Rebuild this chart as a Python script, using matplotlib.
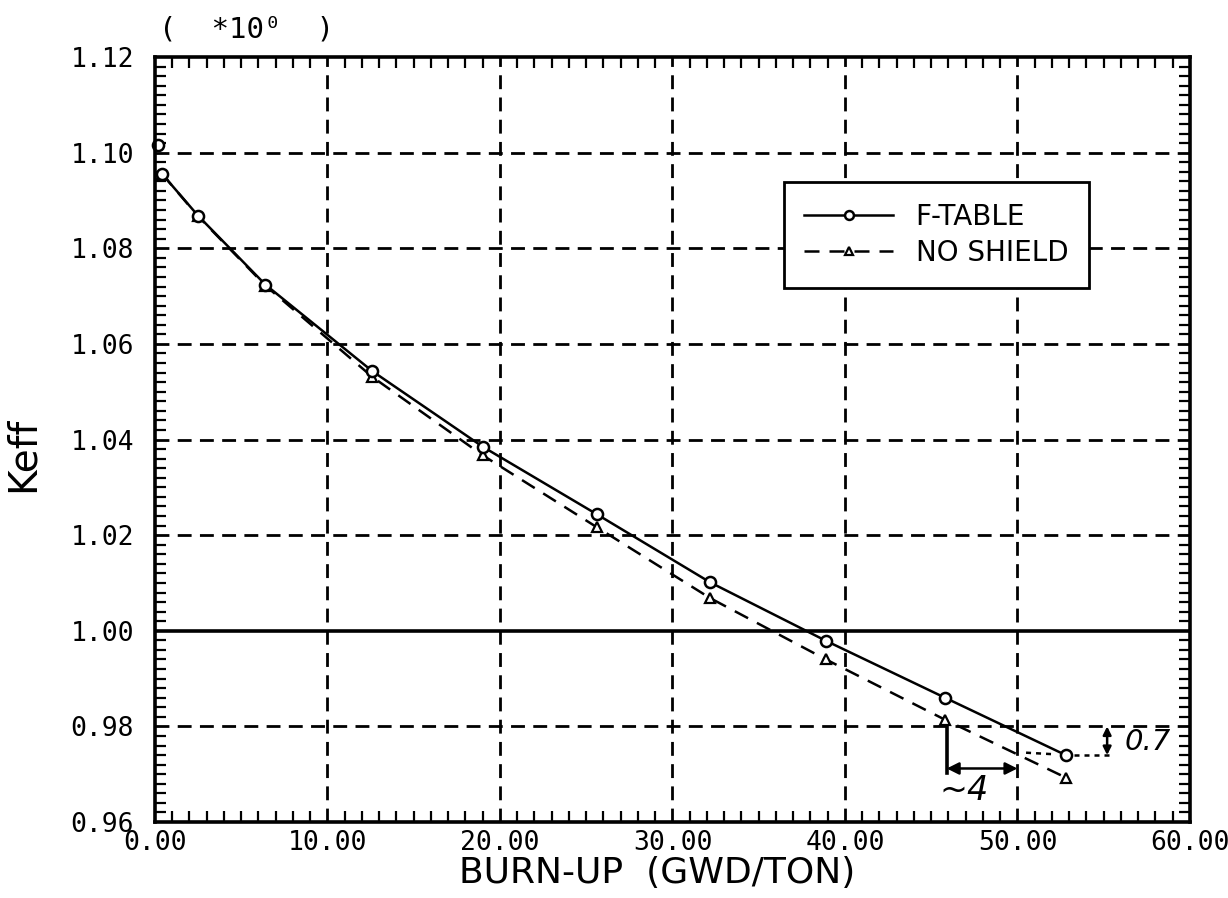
import matplotlib
matplotlib.use("Agg")
import matplotlib.pyplot as plt
from matplotlib.ticker import MultipleLocator, FixedLocator

# ────────────────────────────────────────
#   Data
# ────────────────────────────────────────
burnup = [0.4, 2.5, 6.4, 12.6, 19.0, 25.6, 32.2, 38.9, 45.8, 52.8]
keff_ftable = [1.0956, 1.0868, 1.0724, 1.0543, 1.0385, 1.0244, 1.0101, 0.9979, 0.9860, 0.9740]
keff_noshield = [1.0956, 1.0867, 1.0722, 1.0531, 1.0367, 1.0217, 1.0068, 0.9940, 0.9814, 0.9693]

# fresh-fuel point (drawn alone, not joined to the curve)
burnup_fresh = [0.2]
keff_fresh = [1.1017]

x_ticks = [0, 10, 20, 30, 40, 50, 60]
y_ticks = [0.96, 0.98, 1.00, 1.02, 1.04, 1.06, 1.08, 1.10, 1.12]

MONO = "DejaVu Sans Mono"
SANS = "DejaVu Sans"

fig = plt.figure(figsize=(12.28, 8.98), dpi=100, facecolor="white")
ax = fig.add_axes([0.1262, 0.0846, 0.9690 - 0.1262, 0.9365 - 0.0846])

ax.set_xlim(0, 60)
ax.set_ylim(0.96, 1.12)

# grid: dashed, except keff = 1.00 which is solid
dash = (0, (5, 3))
for xv in x_ticks[1:-1]:
    ax.axvline(xv, color="black", lw=2, ls=dash, zorder=1)
for yv in y_ticks[1:-1]:
    if abs(yv - 1.0) < 1e-9:
        ax.axhline(yv, color="black", lw=2.6, ls="-", zorder=1)
    else:
        ax.axhline(yv, color="black", lw=2, ls=dash, zorder=1)

# curves
ax.plot(burnup, keff_ftable, color="black", lw=1.8, marker="o", ms=8,
        mfc="white", mec="black", mew=1.8, label="F-TABLE", zorder=3)
ax.plot(burnup, keff_noshield, color="black", lw=1.8, ls=(0, (6, 4)), marker="^",
        ms=7, mfc="white", mec="black", mew=1.6, label="NO SHIELD", zorder=2)
ax.plot(burnup_fresh, keff_fresh, ls="none", marker="o", ms=8, mfc="white",
        mec="black", mew=1.8, zorder=3, clip_on=False)

# hand-drawn notes near the end of cycle
x_ns = 45.9
ax.plot([x_ns, x_ns], [0.980, 0.9703], color="black", lw=2.6, zorder=4)
ax.annotate("", xy=(50.0, 0.9712), xytext=(x_ns, 0.9712),
            arrowprops=dict(arrowstyle="<|-|>", color="black", lw=1.8,
                            mutation_scale=18, shrinkA=0, shrinkB=0), zorder=4)
ax.text(46.9, 0.9665, "~4", fontsize=24, style="italic", family=SANS,
        ha="center", va="center")

ax.plot([burnup[-1] + 0.5, 55.6], [keff_ftable[-1], keff_ftable[-1]], color="black",
        lw=1.8, ls=(0, (2, 2)), zorder=4)
ax.plot([50.5, 52.0], [0.9745, 0.9742], color="black", lw=1.8, ls=(0, (2, 2)), zorder=4)
ax.annotate("", xy=(55.2, 0.980), xytext=(55.2, keff_ftable[-1]),
            arrowprops=dict(arrowstyle="<|-|>", color="black", lw=1.8,
                            mutation_scale=12, shrinkA=0, shrinkB=0), zorder=4)
ax.text(56.2, 0.9768, "0.7", fontsize=21, style="italic", family=SANS,
        ha="left", va="center")

# ticks: labels only at majors, inward minor ticks on all four sides
ax.xaxis.set_major_locator(FixedLocator(x_ticks))
ax.yaxis.set_major_locator(FixedLocator(y_ticks))
ax.xaxis.set_minor_locator(MultipleLocator(1))
ax.yaxis.set_minor_locator(MultipleLocator(0.002))
ax.set_xticklabels([f"{v:.2f}" for v in x_ticks], family=MONO, fontsize=19)
ax.set_yticklabels([f"{v:.2f}" for v in y_ticks], family=MONO, fontsize=19)
ax.tick_params(which="major", direction="in", length=0, pad=6)
ax.tick_params(axis="y", which="major", pad=15)
ax.tick_params(which="minor", direction="in", length=8, width=1.6,
               top=True, right=True, bottom=True, left=True)

for s in ax.spines.values():
    s.set_linewidth(2.6)
    s.set_zorder(5)

ax.set_xlabel("BURN-UP  (GWD/TON)", fontsize=26, family=SANS)
ax.xaxis.set_label_coords(0.485, -0.045)
ax.set_ylabel("Keff", fontsize=28, family=SANS)
ax.yaxis.set_label_coords(-0.11, 0.48)
ax.text(0.004, 1.018, "(  *10\u2070  )", transform=ax.transAxes, family=MONO,
        fontsize=21, ha="left", va="bottom")

leg = ax.legend(loc="upper left", bbox_to_anchor=(0.594, 0.855),
                prop={"family": SANS, "size": 20}, frameon=True, fancybox=False,
                edgecolor="black", framealpha=1, handlelength=3.2,
                borderpad=0.75, labelspacing=0.3, markerscale=0.8)
leg.get_frame().set_linewidth(2)
leg.set_zorder(6)

fig.savefig("out.png", dpi=100, facecolor="white")
